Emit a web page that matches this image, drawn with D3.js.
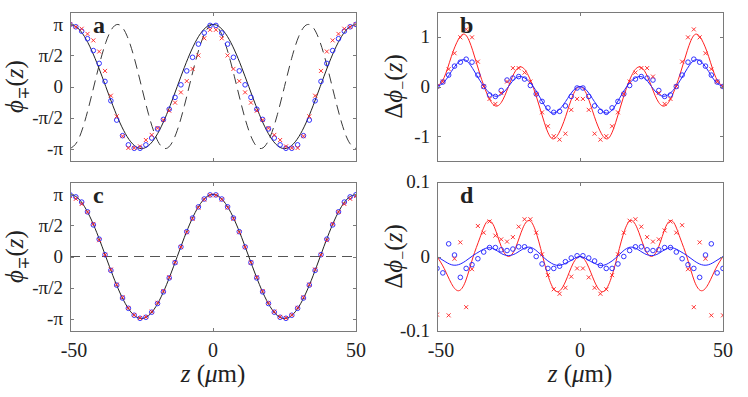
<!DOCTYPE html>
<html>

<head>
    <title>phase profiles</title>
    <meta charset="utf-8">
    <script src="https://d3js.org/d3.v7.min.js"></script>
    <style>
        body { margin: 0; background: #fff; }
        text { font-family: "Liberation Serif", "DejaVu Serif", serif; fill: #222; }
    </style>
</head>

<body>
    <div id="fig"></div>
</body>

<script>

    // sample positions of the markers (um)
    let zPts = [-50, -47.96, -45.92, -43.88, -41.84, -39.8, -37.76, -35.71, -33.67, -31.63, -29.59, -27.55, -25.51,
        -23.47, -21.43, -19.39, -17.35, -15.31, -13.27, -11.22, -9.18, -7.14, -5.1, -3.06, -1.02,
        1.02, 3.06, 5.1, 7.14, 9.18, 11.22, 13.27, 15.31, 17.35, 19.39, 21.43, 23.47, 25.51, 27.55, 29.59,
        31.63, 33.67, 35.71, 37.76, 39.8, 41.84, 43.88, 45.92, 47.96, 50];

    // sample positions of the lines (um)
    let zLine = [-50, -47.5, -45, -42.5, -40, -37.5, -35, -32.5, -30, -27.5, -25, -22.5, -20, -17.5, -15, -12.5,
        -10, -7.5, -5, -2.5, 0, 2.5, 5, 7.5, 10, 12.5, 15, 17.5, 20, 22.5, 25, 27.5, 30, 32.5, 35, 37.5,
        40, 42.5, 45, 47.5, 50];

    // panels a and c : solid black line
    let phiLine = [3.142, 2.988, 2.542, 1.847, 0.971, 0, -0.971, -1.847, -2.542, -2.988, -3.142, -2.988, -2.542,
        -1.847, -0.971, 0, 0.971, 1.847, 2.542, 2.988, 3.142, 2.988, 2.542, 1.847, 0.971, 0, -0.971, -1.847,
        -2.542, -2.988, -3.142, -2.988, -2.542, -1.847, -0.971, 0, 0.971, 1.847, 2.542, 2.988, 3.142];

    // panel a : dashed line
    let phiDash = [-3.142, -2.799, -1.847, -0.491, 0.971, 2.221, 2.988, 3.103, 2.542, 1.426, 0, -1.426, -2.542,
        -3.103, -2.988, -2.221, -0.971, 0.491, 1.847, 2.799, 3.142, 2.799, 1.847, 0.491, -0.971, -2.221,
        -2.988, -3.103, -2.542, -1.426, 0, 1.426, 2.542, 3.103, 2.988, 2.221, 0.971, -0.491, -1.847, -2.799, -3.142];

    // panel c : dashed zero line
    let zeroLine = [0, 0];
    let zeroZ = [-50, 50];

    // panel a markers
    let aBlue = [3.142, 3.022, 2.799, 2.419, 1.819, 1.169, 0.258, -0.723, -1.700, -2.488, -2.953, -3.126, -3.126,
        -2.953, -2.608, -2.146, -1.665, -1.150, -0.550, 0.085, 0.789, 1.477, 2.146, 2.711, 3.091,
        3.091, 2.711, 2.146, 1.477, 0.789, 0.085, -0.550, -1.150, -1.665, -2.146, -2.608, -2.953, -3.126,
        -3.126, -2.953, -2.488, -1.700, -0.723, 0.258, 1.169, 1.819, 2.419, 2.799, 3.022, 3.142];
    let aRed = [3.142, 3.016, 2.922, 2.661, 2.334, 1.769, 0.789, -0.465, -1.508, -2.513, -3.110, -3.110, -3.032,
        -2.708, -2.450, -2.105, -1.696, -1.225, -0.817, -0.298, 0.273, 0.889, 1.571, 2.441, 2.868,
        2.868, 2.441, 1.571, 0.889, 0.273, -0.298, -0.817, -1.225, -1.696, -2.105, -2.450, -2.708, -3.032,
        -3.110, -3.110, -2.513, -1.508, -0.465, 0.789, 1.769, 2.334, 2.661, 2.922, 3.016, 3.142];

    // panel b
    let bBlue = [0, 0.09, 0.23, 0.41, 0.49, 0.55, 0.49, 0.23, 0.00, -0.17, -0.20, -0.08, 0.13, 0.17, 0.20, 0.15,
        0.02, -0.15, -0.30, -0.43, -0.52, -0.50, -0.39, -0.20, -0.03,
        -0.03, -0.20, -0.39, -0.50, -0.52, -0.43, -0.30, -0.15, 0.02, 0.15, 0.20, 0.17, 0.13, -0.08, -0.20,
        -0.17, 0.00, 0.23, 0.49, 0.55, 0.49, 0.41, 0.23, 0.09, 0];
    let bRed = [0, 0.10, 0.35, 0.67, 0.99, 1.15, 0.99, 0.50, 0.00, -0.25, -0.35, -0.13, 0.10, 0.37, 0.37, 0.28,
        0.10, -0.15, -0.52, -0.80, -1.00, -1.07, -0.95, -0.47, -0.25,
        -0.25, -0.47, -0.95, -1.07, -1.00, -0.80, -0.52, -0.15, 0.10, 0.28, 0.37, 0.37, 0.20, -0.13, -0.35,
        -0.25, 0.00, 0.50, 0.99, 1.15, 0.99, 0.67, 0.35, 0.10, 0];
    let bBlueLine = [0, 0.09, 0.30, 0.49, 0.53, 0.36, 0.12, -0.08, -0.19, -0.16, 0, 0.17, 0.19, 0.08, -0.12, -0.37,
        -0.53, -0.48, -0.30, -0.09, 0, -0.09, -0.30, -0.48, -0.53, -0.37, -0.12, 0.08, 0.19, 0.17, 0,
        -0.16, -0.19, -0.08, 0.12, 0.36, 0.53, 0.49, 0.30, 0.09, 0];
    let bRedLine = [0, 0.18, 0.60, 0.95, 1.04, 0.72, 0.25, -0.15, -0.38, -0.32, 0, 0.32, 0.38, 0.15, -0.25, -0.72,
        -1.04, -0.95, -0.60, -0.18, 0, -0.18, -0.60, -0.95, -1.04, -0.72, -0.25, 0.15, 0.38, 0.32, 0,
        -0.32, -0.38, -0.15, 0.25, 0.72, 1.04, 0.95, 0.60, 0.18, 0];

    // panel c markers
    let cBlue = [3.126, 3.017, 2.754, 2.259, 1.600, 0.878, 0.090, -0.702, -1.447, -2.100, -2.621, -2.973, -3.127,
        -3.074, -2.818, -2.379, -1.789, -1.085, -0.312, 0.485, 1.256, 1.946, 2.511, 2.910, 3.117,
        3.117, 2.910, 2.512, 1.947, 1.256, 0.485, -0.312, -1.085, -1.789, -2.379, -2.818, -3.075, -3.127,
        -2.973, -2.621, -2.100, -1.447, -0.702, 0.090, 0.878, 1.600, 2.259, 2.754, 3.017, 3.126];
    let cRed = [3.064, 2.919, 2.658, 2.254, 1.647, 0.826, 0.084, -0.658, -1.421, -2.065, -2.605, -2.959, -3.115,
        -3.058, -2.791, -2.342, -1.747, -1.053, -0.299, 0.476, 1.228, 1.909, 2.476, 2.885, 3.100,
        3.100, 2.884, 2.476, 1.909, 1.228, 0.476, -0.299, -1.053, -1.749, -2.342, -2.791, -3.058, -3.115,
        -2.959, -2.598, -2.065, -1.421, -0.657, 0.084, 0.826, 1.647, 2.254, 2.658, 2.919, 3.063];

    // panel d
    let dBlue = [-0.016, -0.022, 0.017, 0.002, -0.028, -0.016, -0.011, -0.003, 0.006, 0.012, 0.012, 0.009, 0.008,
        0.010, 0.013, 0.013, 0.008, 0.000, -0.010, -0.016, -0.016, -0.013, -0.007, -0.002, 0.001,
        0.001, -0.002, -0.006, -0.012, -0.016, -0.016, -0.010, 0.000, 0.008, 0.013, 0.013, 0.009, 0.008,
        0.009, 0.012, 0.012, 0.006, -0.003, -0.011, -0.016, -0.028, 0.002, 0.017, -0.022, -0.016];
    let dRed = [-0.078, -0.12, -0.079, -0.003, 0.019, -0.068, -0.017, 0.041, 0.032, 0.047, 0.028, 0.023, 0.020,
        0.026, 0.040, 0.050, 0.050, 0.032, 0.003, -0.025, -0.044, -0.050, -0.042, -0.027, -0.016,
        -0.016, -0.028, -0.042, -0.050, -0.044, -0.025, 0.003, 0.032, 0.048, 0.050, 0.040, 0.026, 0.020,
        0.023, 0.035, 0.047, 0.032, 0.042, -0.017, -0.068, 0.019, -0.003, -0.079, -0.12, -0.079];
    let dBlueLine = [0, -0.006, -0.011, -0.011, -0.006, 0.001, 0.007, 0.0115, 0.010, 0.004, 0.0013, 0.004, 0.010,
        0.0125, 0.007, -0.002, -0.009, -0.012, -0.009, -0.004, 0, -0.004, -0.009, -0.012, -0.009, -0.002,
        0.007, 0.0125, 0.010, 0.004, 0.0013, 0.004, 0.010, 0.0115, 0.007, 0.001, -0.006, -0.011, -0.011, -0.006, 0];
    let dRedLine = [0, -0.016, -0.036, -0.046, -0.033, -0.002, 0.025, 0.047, 0.040, 0.013, 0, 0.012, 0.038, 0.048,
        0.028, -0.008, -0.038, -0.047, -0.033, -0.010, 0, -0.010, -0.033, -0.047, -0.038, -0.008, 0.028,
        0.048, 0.038, 0.012, 0, 0.013, 0.040, 0.047, 0.025, -0.002, -0.033, -0.046, -0.036, -0.016, 0];

    // tick labels
    let xTicks = [-50, 0, 50];
    let phiTicks = [-Math.PI, -Math.PI / 2, 0, Math.PI / 2, Math.PI];
    let phiTickLabels = ["-π", "-π/2", "0", "π/2", "π"];
    let bTicks = [-1, 0, 1];
    let bTickLabels = ["-1", "0", "1"];
    let dTicks = [-0.1, 0, 0.1];
    let dTickLabels = ["-0.1", "0", "0.1"];

    let W = 748, H = 397;
    let svg = d3.select("#fig").append("svg")
        .attr("width", W)
        .attr("height", H);

    let axisColor = "#7a7a7a";

    function drawPanel(p) {
        let x = d3.scaleLinear().domain([-50, 50]).range([p.left, p.right]);
        let y = d3.scaleLinear().domain(p.ylim).range([p.bottom, p.top]);

        let g = svg.append("g");
        let clipId = "clip-" + p.letter;
        g.append("clipPath").attr("id", clipId)
            .append("rect")
            .attr("x", p.left).attr("y", p.top)
            .attr("width", p.right - p.left).attr("height", p.bottom - p.top);

        let plot = g.append("g").attr("clip-path", "url(#" + clipId + ")");

        // lines
        for (let l of p.lines) {
            let line = d3.line()
                .x((d, i) => x(l.z[i]))
                .y(d => y(d))
                .curve(l.z.length > 2 ? d3.curveNatural : d3.curveLinear);
            plot.append("path")
                .datum(l.values)
                .attr("d", line)
                .attr("fill", "none")
                .attr("stroke", l.color)
                .attr("stroke-width", l.width)
                .attr("stroke-dasharray", l.dash || null);
        }

        // blue circles
        plot.append("g")
            .selectAll("circle")
            .data(p.blue)
            .join("circle")
            .attr("cx", (d, i) => x(zPts[i]))
            .attr("cy", d => y(d))
            .attr("r", 2.3)
            .attr("fill", "none")
            .attr("stroke", "#1f1fff")
            .attr("stroke-width", 0.9);

        // red crosses
        let s = 2;
        plot.append("g")
            .selectAll("path")
            .data(p.red)
            .join("path")
            .attr("d", (d, i) => {
                let cx = x(zPts[i]), cy = y(d);
                return `M${cx - s},${cy - s}L${cx + s},${cy + s}M${cx - s},${cy + s}L${cx + s},${cy - s}`;
            })
            .attr("stroke", "#ff1f1f")
            .attr("stroke-width", 0.9);

        // box
        g.append("rect")
            .attr("x", p.left + 0.5).attr("y", p.top + 0.5)
            .attr("width", p.right - p.left).attr("height", p.bottom - p.top)
            .attr("fill", "none")
            .attr("stroke", axisColor)
            .attr("stroke-width", 1);

        // y ticks, inside on both sides
        let tl = 4;
        p.yTicks.forEach((t, i) => {
            let yy = Math.round(y(t)) + 0.5;
            g.append("line").attr("x1", p.left).attr("x2", p.left + tl)
                .attr("y1", yy).attr("y2", yy).attr("stroke", axisColor);
            g.append("line").attr("x1", p.right + 1 - tl).attr("x2", p.right + 1)
                .attr("y1", yy).attr("y2", yy).attr("stroke", axisColor);
            g.append("text")
                .attr("x", p.left - 7)
                .attr("y", y(t))
                .attr("dy", "0.34em")
                .attr("text-anchor", "end")
                .style("font-size", "19px")
                .text(p.yTickLabels[i]);
        });

        // x ticks, inside on top and bottom
        xTicks.forEach(t => {
            let xx = Math.round(x(t)) + 0.5;
            g.append("line").attr("x1", xx).attr("x2", xx)
                .attr("y1", p.bottom + 1).attr("y2", p.bottom + 1 - tl).attr("stroke", axisColor);
            g.append("line").attr("x1", xx).attr("x2", xx)
                .attr("y1", p.top).attr("y2", p.top + tl).attr("stroke", axisColor);
            if (p.xLabels) {
                g.append("text")
                    .attr("x", x(t) + (t < 0 ? 4 : 0))
                    .attr("y", p.bottom + 26)
                    .attr("text-anchor", "middle")
                    .style("font-size", "20px")
                    .text(t);
            }
        });

        if (p.xLabels) {
            let xl = g.append("text")
                .attr("x", (p.left + p.right) / 2)
                .attr("y", p.bottom + 51)
                .attr("text-anchor", "middle")
                .style("font-size", "25px");
            xl.append("tspan").style("font-style", "italic").text("z");
            xl.append("tspan").text(" (");
            xl.append("tspan").style("font-style", "italic").text("μ");
            xl.append("tspan").text("m)");
        }

        // y label
        let yl = g.append("text")
            .attr("transform", `translate(${p.ylabelX},${(p.top + p.bottom) / 2}) rotate(-90)`)
            .attr("text-anchor", "middle")
            .attr("dy", "0.3em")
            .style("font-size", "25px");
        if (p.delta) yl.append("tspan").text("Δ");
        yl.append("tspan").style("font-style", "italic").text("ϕ");
        yl.append("tspan").attr("dy", "6").style("font-size", "16px").text(p.sub);
        yl.append("tspan").attr("dy", "-6").text("(");
        yl.append("tspan").style("font-style", "italic").text("z");
        yl.append("tspan").text(")");

        // panel letter
        g.append("text")
            .attr("x", p.letterX)
            .attr("y", p.top + 21)
            .style("font-size", "24px")
            .style("font-weight", "bold")
            .text(p.letter);
    }

    let piLim = [-1.2 * Math.PI, 1.2 * Math.PI];

    drawPanel({
        letter: "a", left: 70, right: 356, top: 12, bottom: 161, ylim: piLim,
        yTicks: phiTicks, yTickLabels: phiTickLabels, ylabelX: 15, sub: "∓", delta: false, letterX: 93,
        lines: [
            { z: zLine, values: phiDash, color: "#3a3a3a", width: 1, dash: "10,6" },
            { z: zLine, values: phiLine, color: "#222", width: 1 }
        ],
        blue: aBlue, red: aRed
    });

    drawPanel({
        letter: "b", left: 437, right: 723, top: 12, bottom: 161, ylim: [-1.5, 1.5],
        yTicks: bTicks, yTickLabels: bTickLabels, ylabelX: 394, sub: "−", delta: true, letterX: 460,
        lines: [
            { z: zLine, values: bRedLine, color: "#ff2020", width: 1 },
            { z: zLine, values: bBlueLine, color: "#2020ff", width: 1 }
        ],
        blue: bBlue, red: bRed
    });

    drawPanel({
        letter: "c", left: 70, right: 356, top: 182, bottom: 331, ylim: piLim,
        yTicks: phiTicks, yTickLabels: phiTickLabels, ylabelX: 15, sub: "∓", delta: false, letterX: 93,
        xLabels: true,
        lines: [
            { z: zeroZ, values: zeroLine, color: "#555", width: 1, dash: "10,6" },
            { z: zLine, values: phiLine, color: "#222", width: 1 }
        ],
        blue: cBlue, red: cRed
    });

    drawPanel({
        letter: "d", left: 437, right: 723, top: 182, bottom: 331, ylim: [-0.1, 0.1],
        yTicks: dTicks, yTickLabels: dTickLabels, ylabelX: 394, sub: "−", delta: true, letterX: 460,
        xLabels: true,
        lines: [
            { z: zLine, values: dRedLine, color: "#ff2020", width: 1 },
            { z: zLine, values: dBlueLine, color: "#2020ff", width: 1 }
        ],
        blue: dBlue, red: dRed
    });

</script>

</html>
